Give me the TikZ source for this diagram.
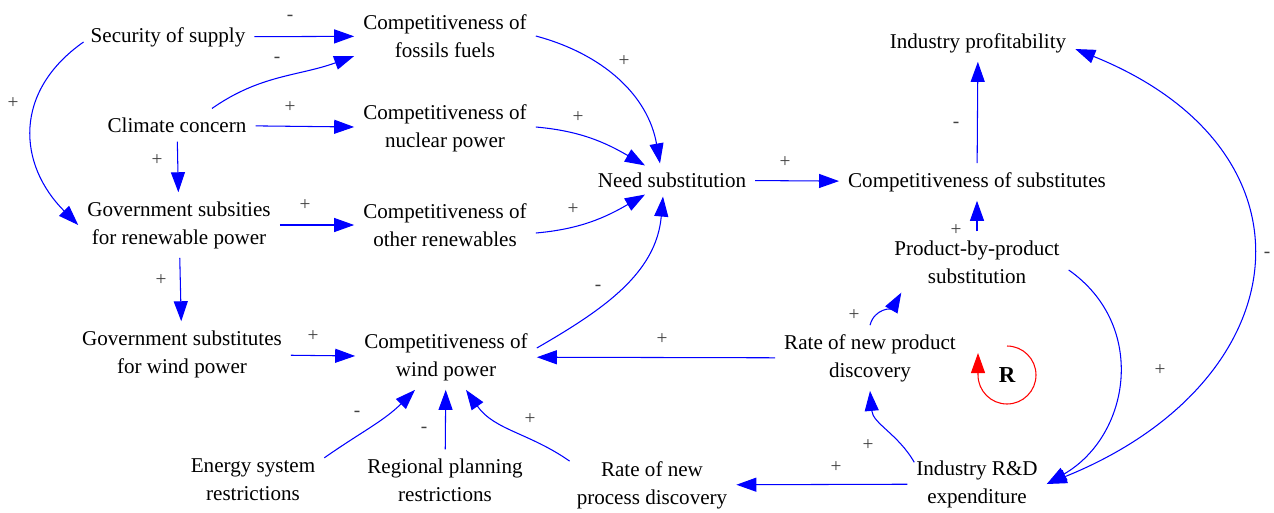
\documentclass[tikz,border=0pt]{standalone}
\usepackage{fontspec}
\setmainfont{Liberation Serif}
\usetikzlibrary{arrows.meta,calc}

\begin{document}
\begin{tikzpicture}[x=0.02cm, y=-0.02cm, >={Triangle[length=4mm, width=2.8mm]},
  var/.style={align=center, inner sep=5pt, font=\fontsize{12}{16}\selectfont},
  link/.style={draw=blue, line width=0.6pt, ->},
  sgn/.style={inner sep=0pt, text=black!75, font=\fontsize{11}{12}\selectfont}]

  \useasboundingbox (0,0) rectangle (1274,512);

  \node[var] (sec)  at (168, 37)  {Security of supply};
  \node[var] (fos)  at (445, 36)  {Competitiveness of\\fossils fuels};
  \node[var] (clim) at (177,125)  {Climate concern};
  \node[var] (nuc)  at (445,128)  {Competitiveness of\\nuclear power};
  \node[var] (gov)  at (179,225)  {Government subsities\\for renewable power};
  \node[var] (ren)  at (445,225)  {Competitiveness of\\other renewables};
  \node[var] (gw)   at (182,354)  {Government substitutes\\for wind power};
  \node[var] (wind) at (446,357)  {Competitiveness of\\wind power};
  \node[var] (ens)  at (253,480)  {Energy system\\restrictions};
  \node[var] (reg)  at (445,480)  {Regional planning\\restrictions};
  \node[var] (proc) at (652,485)  {Rate of new\\process discovery};
  \node[var] (need) at (672,180)  {Need substitution};
  \node[var] (subs) at (977,182)  {Competitiveness of substitutes};
  \node[var] (prof) at (978, 43)  {Industry profitability};
  \node[var] (pbp)  at (977,262)  {Product-by-product\\substitution};
  \node[var] (rnp)  at (870,358)  {Rate of new product\\discovery};
  \node[var] (rnd)  at (977,484)  {Industry R\&D\\expenditure};
  \node[font=\bfseries\fontsize{13}{14}\selectfont, inner sep=0pt] (rl) at (1007,375) {R};

  \draw[link] (sec) -- (fos);
  \draw[link] ($(clim.north)+(35,0)$) to[out=35, in=200] ($(fos.west)+(0,20)$);
  \draw[link] ($(sec.west)+(2,5)$) to[out=215, in=135, looseness=1.2] (gov.west);
  \draw[link] (clim) -- (nuc);
  \draw[link] (clim) -- (gov);
  \draw[link] (gov) -- (ren);
  \draw[link] (gov) -- (gw);
  \draw[link] (gw) -- (wind);
  \draw[link] (fos.east) to[out=-15, in=100] ($(need.north)+(-12,0)$);
  \draw[link] ($(nuc.east)+(0,-1)$) to[out=-5, in=150] ($(need.north)+(-27,2)$);
  \draw[link] ($(ren.east)+(0,8)$) to[out=5, in=-150] ($(need.south)+(-27,-2)$);
  \draw[link] ($(wind.east)+(0,-9)$) to[out=30, in=-95] ($(need.south)+(-9,0)$);
  \draw[link] (need) -- (subs);
  \draw[link] (subs) -- (prof);
  \draw[link] (pbp) -- (subs);
  \draw[link] (rnp.north) to[out=75, in=-120] ($(pbp.south west)+(16,0)$);
  \draw[link] (rnp) -- (wind);
  \draw[link] ($(pbp.east)+(0,8)$) to[out=-35, in=30, looseness=1.15] (rnd.east);
  \draw[link, <->] ($(prof.east)+(0,6)$) to[out=-22, in=22, looseness=1.6] (rnd.east);
  \draw[link] ($(rnd.north west)+(7,11)$) to[out=120, in=-85] (rnp.south);
  \draw[link] (rnd) -- (proc);
  \draw[link] ($(ens.north east)+(0,8)$) to[out=35, in=-135] ($(wind.south)+(-31,0)$);
  \draw[link] (reg) -- (wind);
  \draw[link] ($(proc.north west)+(2,9)$) to[out=145, in=-55] ($(wind.south)+(20,0)$);
  \draw[red, line width=0.6pt, ->] ($(rl)+(0,-29)$) arc[start angle=90, end angle=-180, radius=0.58cm] -- ++(0,-22);

  \node[sgn] (s1)  at (290, 18) {-};
  \node[sgn] (s2)  at (277, 60) {-};
  \node[sgn] (s3)  at (13, 103) {+};
  \node[sgn] (s4)  at (290,107) {+};
  \node[sgn] (s5)  at (157,160) {+};
  \node[sgn] (s6)  at (305,205) {+};
  \node[sgn] (s7)  at (161,280) {+};
  \node[sgn] (s8)  at (313,336) {+};
  \node[sgn] (s9)  at (624, 61) {+};
  \node[sgn] (s10) at (578,117) {+};
  \node[sgn] (s11) at (573,209) {+};
  \node[sgn] (s12) at (598,288) {-};
  \node[sgn] (s13) at (785,162) {+};
  \node[sgn] (s14) at (956,125) {-};
  \node[sgn] (s15) at (956,230) {+};
  \node[sgn] (s16) at (854,315) {+};
  \node[sgn] (s17) at (662,339) {+};
  \node[sgn] (s18) at (1160,370) {+};
  \node[sgn] (s19) at (1267,255) {-};
  \node[sgn] (s20) at (868,445) {+};
  \node[sgn] (s21) at (836,467) {+};
  \node[sgn] (s22) at (357,414) {-};
  \node[sgn] (s23) at (424,430) {-};
  \node[sgn] (s24) at (530,419) {+};
\end{tikzpicture}
\end{document}
